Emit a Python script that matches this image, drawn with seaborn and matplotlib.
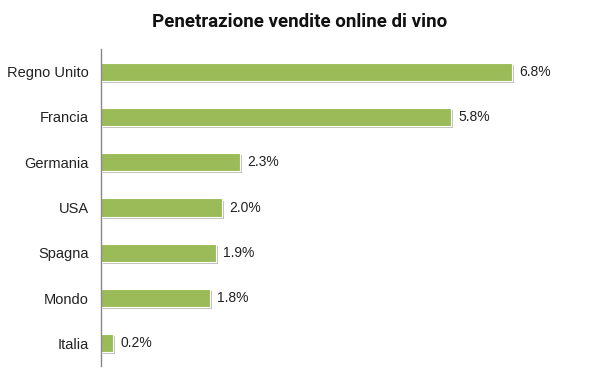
import matplotlib
matplotlib.use("Agg")
import matplotlib.pyplot as plt
import matplotlib.patheffects as pe
import pandas as pd
import seaborn as sns

# data
countries = ['Regno Unito', 'Francia', 'Germania', 'USA', 'Spagna', 'Mondo', 'Italia']
share = [6.8, 5.8, 2.3, 2.0, 1.9, 1.8, 0.2]
labels = ['6.8%', '5.8%', '2.3%', '2.0%', '1.9%', '1.8%', '0.2%']

df = pd.DataFrame({'country': countries, 'share': share})

sns.set_style('white')
plt.rcParams['font.family'] = ['Liberation Sans', 'DejaVu Sans']

fig = plt.figure(figsize=(5.99, 3.81), dpi=100)
ax = fig.add_axes([101 / 599, 15 / 381, 483 / 599, 317 / 381])

sns.barplot(data=df, x='share', y='country', color='#9BBB59', saturation=1,
            width=0.4, edgecolor='white', linewidth=0.8, ax=ax)

for bar in ax.patches:
    bar.set_path_effects([pe.SimplePatchShadow(offset=(1.5, -1.5), alpha=0.3),
                          pe.Normal()])

for bar, lab in zip(ax.patches, labels):
    ax.text(bar.get_width() + 0.12, bar.get_y() + bar.get_height() / 2, lab,
            va='center', ha='left', fontsize=10, color='#222222')

ax.set_xlim(0, 8)
ax.set_ylim(6.5, -0.5)
ax.set_xlabel('')
ax.set_ylabel('')
ax.set_xticks([])
ax.tick_params(axis='y', length=0, pad=9, labelsize=10.5)
for lab in ax.get_yticklabels():
    lab.set_color('#222222')

for side in ['top', 'right', 'bottom']:
    ax.spines[side].set_visible(False)
ax.spines['left'].set_color('#888888')
ax.spines['left'].set_linewidth(1)

fig.text(0.5, 1 - 22 / 381, 'Penetrazione vendite online di vino', ha='center', va='center',
         fontsize=13.5, fontweight='bold', family=['Roboto', 'DejaVu Sans'],
         color='#111111')

fig.savefig('out.png', dpi=100)
